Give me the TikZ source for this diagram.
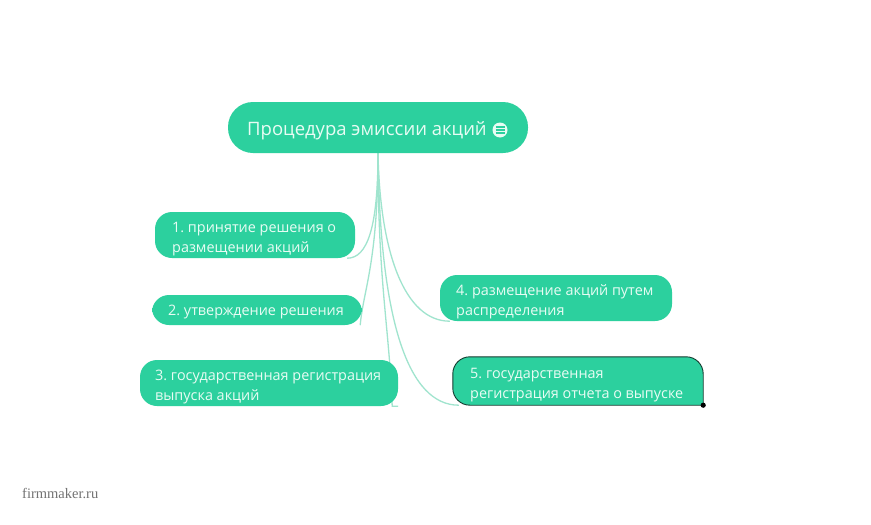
\documentclass[tikz,border=0pt]{standalone}
\usepackage{fontspec}
\setmainfont{Open Sans}
\newfontfamily\wmfont{Liberation Serif}
\definecolor{mint}{RGB}{44,208,158}
\definecolor{mintline}{RGB}{160,228,206}
\definecolor{mtext}{RGB}{232,252,244}
\definecolor{selborder}{RGB}{22,60,48}
\pgfdeclarelayer{bg}
\pgfsetlayers{bg,main}
\begin{document}
\frenchspacing
\begin{tikzpicture}[x=1pt,y=-1pt,
  pill/.style={fill=mint, rounded corners=17, inner sep=0, anchor=center},
  ptext/.style={text=mtext, align=left, inner sep=0, anchor=west, font=\fontsize{14.4}{20}\selectfont},
  conn/.style={draw=mintline, line width=1.3pt}]
\useasboundingbox (0,0) rectangle (871,525);
\begin{pgfonlayer}{bg}
\fill[white] (0,0) rectangle (871,525);
\end{pgfonlayer}
% root
\node[pill, rounded corners=25, minimum height=51, minimum width=300] (root) at (378,127.5) {};
\node[text=mtext, font=\fontsize{18.5}{22}\selectfont, anchor=west, inner sep=0] (roott) at (247,131) {Процедура эмиссии акций};
\node[circle, fill=mtext, minimum size=15, inner sep=0] (icon) at (500,130) {};
\draw[mint, line width=1.3pt] ([xshift=-4.5,yshift=-3]icon.center) -- ([xshift=4.5,yshift=-3]icon.center)
  ([xshift=-4.5]icon.center) -- ([xshift=4.5]icon.center)
  ([xshift=-4.5,yshift=3]icon.center) -- ([xshift=4.5,yshift=3]icon.center);
% children
\node[pill, minimum width=200, minimum height=46] (n1) at (255,235) {};
\node[ptext] (t1) at (172,239) {1. принятие решения о\\размещении акций};
\node[pill, minimum width=210, minimum height=30] (n2) at (257,310) {};
\node[ptext] (t2) at (168,312.5) {2. утверждение решения};
\node[pill, minimum width=258, minimum height=46] (n3) at (269,383) {};
\node[ptext] (t3) at (155,387) {3. государственная регистрация\\выпуска акций};
\node[pill, minimum width=232, minimum height=46] (n4) at (556,298) {};
\node[ptext] (t4) at (456,302) {4. размещение акций путем\\распределения};
\node[inner sep=0, minimum width=250, minimum height=48] (n5) at (578,381) {};
\filldraw[fill=mint, draw=selborder, line width=0.9pt] (n5.south east) [rounded corners=17] -- (n5.north east) -- (n5.north west) -- (n5.south west) [sharp corners] -- cycle;
\node[ptext] (t5) at (470,385) {5. государственная\\регистрация отчета о выпуске};
\fill[black] (n5.south east) circle (2.6);
% connectors
\begin{pgfonlayer}{bg}
\draw[conn] (root.south) .. controls +(0,75) and +(20,0) .. ([xshift=-8]n1.south east);
\draw[conn] (root.south) .. controls +(0,110) and +(3,-35) .. ([xshift=-2]n2.south east);
\draw[conn] (root.south) .. controls +(0,130) and +(-3,-80) .. ([xshift=-6]n3.south east) -- (n3.south east);
\draw[conn] (root.south) .. controls +(2,100) and +(-45,0) .. ([xshift=10]n4.south west);
\draw[conn] (root.south) .. controls +(2,170) and +(-50,0) .. ([xshift=6]n5.south west);
\end{pgfonlayer}
% watermark
\node[text=black!55, font=\wmfont\fontsize{14.5}{16}\selectfont, anchor=west, inner sep=0] (wm) at (22,493) {firmmaker.ru};
\end{tikzpicture}
\end{document}
